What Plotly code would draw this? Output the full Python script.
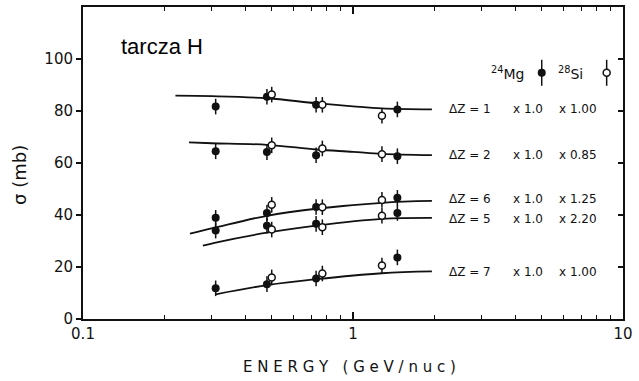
import plotly.graph_objects as go

# ---- data ----
groups = ["ΔZ = 1", "ΔZ = 2", "ΔZ = 6", "ΔZ = 5", "ΔZ = 7"]
factor_mg = ["x 1.0", "x 1.0", "x 1.0", "x 1.0", "x 1.0"]
factor_si = ["x 1.00", "x 0.85", "x 1.25", "x 2.20", "x 1.00"]

mg_energy = [0.31, 0.48, 0.73, 1.46]
si_energy = [0.50, 0.77, 1.28]

mg_dz1 = [81.7, 85.5, 82.4, 80.6]
mg_dz2 = [64.5, 64.2, 63.0, 62.6]
mg_dz6 = [38.9, 40.8, 43.1, 46.6]
mg_dz5 = [34.0, 35.9, 36.6, 40.8]
mg_dz7 = [11.8, 13.4, 15.6, 23.7]

si_dz1 = [86.3, 82.4, 78.2]
si_dz2 = [66.8, 65.6, 63.4]
si_dz6 = [43.9, 43.0, 45.8]
si_dz5 = [34.4, 35.3, 39.7]
si_dz7 = [16.0, 17.5, 20.6]

mg_err = [3.0, 3.0, 3.0, 3.0]
si_err = [3.0, 3.0, 3.0]

curve_dz1_x = [0.22, 0.30, 0.48, 0.73, 1.0, 1.28, 1.96]
curve_dz1_y = [85.9, 85.7, 84.9, 83.0, 81.8, 81.0, 80.6]
curve_dz2_x = [0.247, 0.30, 0.48, 0.73, 1.0, 1.28, 1.96]
curve_dz2_y = [67.9, 67.6, 67.0, 65.2, 64.3, 63.5, 63.0]
curve_dz6_x = [0.249, 0.31, 0.48, 0.73, 1.28, 1.96]
curve_dz6_y = [32.8, 35.2, 39.7, 42.4, 44.7, 45.4]
curve_dz5_x = [0.278, 0.31, 0.48, 0.73, 1.28, 1.96]
curve_dz5_y = [28.2, 29.4, 33.2, 35.9, 38.5, 38.9]
curve_dz7_x = [0.31, 0.48, 0.73, 1.28, 1.96]
curve_dz7_y = [9.5, 13.0, 15.3, 17.6, 18.3]

label_y = [80.6, 63.0, 46.0, 38.5, 18.0]

y_ticks = [0, 20, 40, 60, 80, 100]
x_tick_vals = [0.1, 1, 10]
x_tick_text = ["0.1", "1", "10"]

mg_sets = [mg_dz1, mg_dz2, mg_dz6, mg_dz5, mg_dz7]
si_sets = [si_dz1, si_dz2, si_dz6, si_dz5, si_dz7]
curves = [(curve_dz1_x, curve_dz1_y), (curve_dz2_x, curve_dz2_y),
          (curve_dz6_x, curve_dz6_y), (curve_dz5_x, curve_dz5_y),
          (curve_dz7_x, curve_dz7_y)]

INK = "#111111"
FONT = "DejaVu Sans"

fig = go.Figure()

for cx, cy in curves:
    fig.add_trace(go.Scatter(x=cx, y=cy, mode="lines", line=dict(color=INK, width=1.8, shape="spline"),
                             showlegend=False, hoverinfo="skip"))

for vals in mg_sets:
    fig.add_trace(go.Scatter(x=mg_energy, y=vals, mode="markers",
                             marker=dict(symbol="circle", size=8, color=INK),
                             error_y=dict(type="data", array=mg_err, color=INK, thickness=1.5, width=0),
                             showlegend=False))
for vals in si_sets:
    fig.add_trace(go.Scatter(x=si_energy, y=vals, mode="markers",
                             marker=dict(symbol="circle", size=7, color="white", line=dict(color=INK, width=1.5)),
                             error_y=dict(type="data", array=si_err, color=INK, thickness=1.5, width=0),
                             showlegend=False))

# legend key symbols (decoration)
fig.add_trace(go.Scatter(x=[5.0], y=[94.7], mode="markers",
                         marker=dict(symbol="circle", size=8, color=INK),
                         error_y=dict(type="constant", value=5, color=INK, thickness=1.5, width=0),
                         showlegend=False, hoverinfo="skip"))
fig.add_trace(go.Scatter(x=[8.7], y=[94.7], mode="markers",
                         marker=dict(symbol="circle", size=7, color="white", line=dict(color=INK, width=1.5)),
                         error_y=dict(type="constant", value=5, color=INK, thickness=1.5, width=0),
                         showlegend=False, hoverinfo="skip"))

X0, X1 = 83, 623
def px(p):
    return (p - X0) / (X1 - X0)
def py(p):
    return (319 - p) / 314

ann = []
for g, fm, fs, ly in zip(groups, factor_mg, factor_si, label_y):
    ann.append(dict(x=px(447), y=ly, xref="paper", yref="y", text=g, showarrow=False,
                    xanchor="left", yanchor="middle", font=dict(family=FONT, size=12, color=INK)))
    ann.append(dict(x=px(511), y=ly, xref="paper", yref="y", text=fm, showarrow=False,
                    xanchor="left", yanchor="middle", font=dict(family=FONT, size=12, color=INK)))
    ann.append(dict(x=px(557), y=ly, xref="paper", yref="y", text=fs, showarrow=False,
                    xanchor="left", yanchor="middle", font=dict(family=FONT, size=12, color=INK)))

ann.append(dict(x=px(489), y=94.7, xref="paper", yref="y", text="<sup>24</sup>Mg", showarrow=False,
                xanchor="left", yanchor="middle", font=dict(family=FONT, size=14, color=INK)))
ann.append(dict(x=px(556), y=94.7, xref="paper", yref="y", text="<sup>28</sup>Si", showarrow=False,
                xanchor="left", yanchor="middle", font=dict(family=FONT, size=14, color=INK)))
ann.append(dict(x=px(119), y=py(45), xref="paper", yref="paper", text="tarcza H", showarrow=False,
                xanchor="left", yanchor="middle", font=dict(family="Liberation Sans", size=22, color="black")))
ann.append(dict(x=px(20), y=py(174), xref="paper", yref="paper", text="σ (mb)", showarrow=False,
                textangle=-90, xanchor="center", yanchor="middle", font=dict(family=FONT, size=18, color=INK)))
ann.append(dict(x=px(349), y=py(367), xref="paper", yref="paper", text="E N E R G Y   ( G e V / n u c )",
                showarrow=False, xanchor="center", yanchor="middle", font=dict(family=FONT, size=15, color=INK)))

fig.update_layout(
    width=639, height=381,
    margin=dict(l=83, r=16, t=5, b=62),
    paper_bgcolor="white", plot_bgcolor="white",
    showlegend=False,
    annotations=ann,
    xaxis=dict(type="log", range=[-1, 1], tickvals=x_tick_vals, ticktext=x_tick_text,
               ticks="inside", ticklen=7, tickwidth=1.5, tickcolor=INK,
               minor=dict(ticks="inside", ticklen=4, tickwidth=1.2, tickcolor=INK, dtick="D1", showgrid=False),
               showline=True, linecolor=INK, linewidth=2, mirror="ticks", showgrid=False, zeroline=False,
               tickfont=dict(family=FONT, size=15, color=INK)),
    yaxis=dict(range=[0, 120], tickvals=y_ticks, ticks="outside", ticklen=5, tickwidth=1.5, tickcolor=INK,
               showline=True, linecolor=INK, linewidth=2, showgrid=False, zeroline=False,
               tickfont=dict(family=FONT, size=15, color=INK)),
    yaxis2=dict(range=[0, 120], overlaying="y", side="right", tickvals=y_ticks[1:], ticks="inside",
                ticklen=5, tickwidth=1.5, tickcolor=INK, showticklabels=False,
                showline=True, linecolor=INK, linewidth=2, showgrid=False, zeroline=False),
)
fig.add_trace(go.Scatter(x=[1], y=[None], yaxis="y2", showlegend=False, hoverinfo="skip"))

fig.write_html("out.html")
